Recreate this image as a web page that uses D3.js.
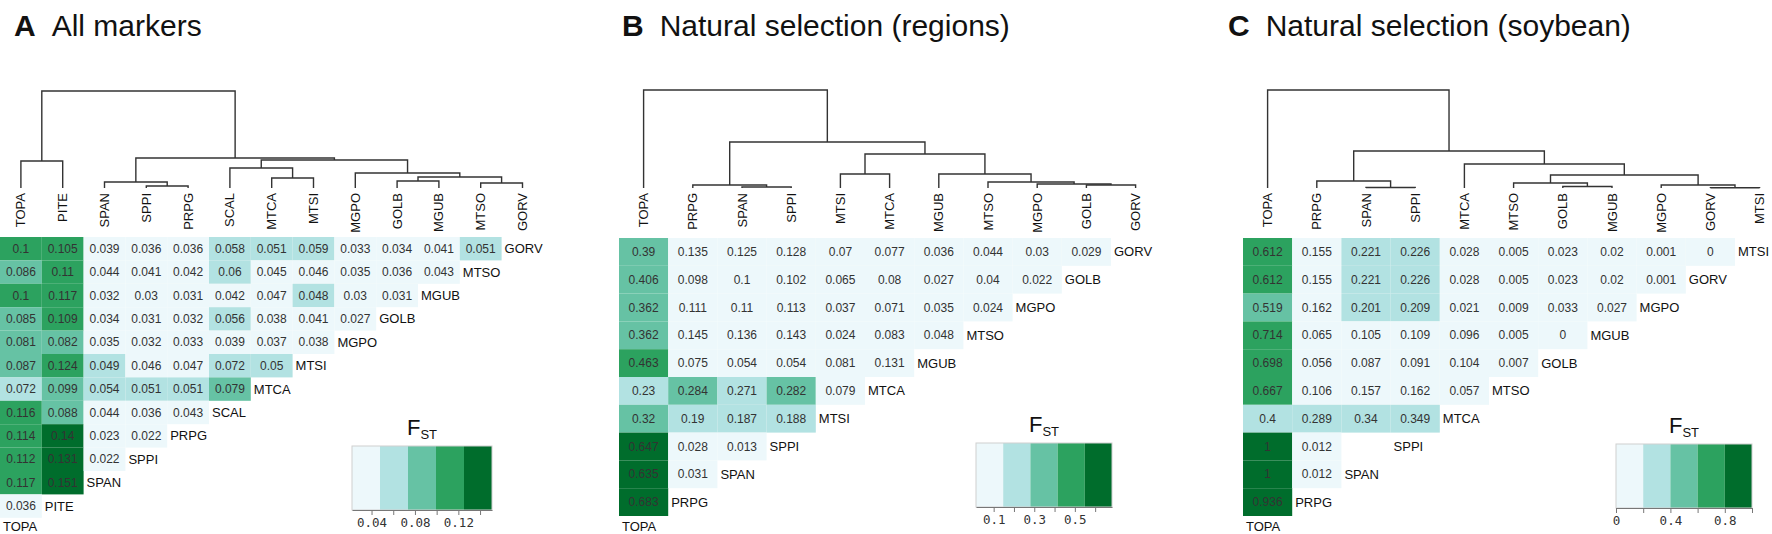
<!DOCTYPE html>
<html>
<head>
<meta charset="utf-8">
<script src="https://cdn.jsdelivr.net/npm/d3@7"></script>
<style>
  body { margin: 0; background: #fff; }
  svg { display: block; font-family: "Liberation Sans", Arial, sans-serif; }
</style>
</head>
<body>
<svg id="chart" width="1772" height="534"></svg>
<script>
const fstColors = ["#edf8fb", "#b2e2e2", "#66c2a4", "#2ca25f", "#006d2c"];

// panel A - all markers
const popsA = ["TOPA", "PITE", "SPAN", "SPPI", "PRPG", "SCAL", "MTCA", "MTSI", "MGPO", "GOLB", "MGUB", "MTSO", "GORV"];
const fstA = [
  [0.1, 0.105, 0.039, 0.036, 0.036, 0.058, 0.051, 0.059, 0.033, 0.034, 0.041, 0.051],
  [0.086, 0.11, 0.044, 0.041, 0.042, 0.06, 0.045, 0.046, 0.035, 0.036, 0.043],
  [0.1, 0.117, 0.032, 0.03, 0.031, 0.042, 0.047, 0.048, 0.03, 0.031],
  [0.085, 0.109, 0.034, 0.031, 0.032, 0.056, 0.038, 0.041, 0.027],
  [0.081, 0.082, 0.035, 0.032, 0.033, 0.039, 0.037, 0.038],
  [0.087, 0.124, 0.049, 0.046, 0.047, 0.072, 0.05],
  [0.072, 0.099, 0.054, 0.051, 0.051, 0.079],
  [0.116, 0.088, 0.044, 0.036, 0.043],
  [0.114, 0.14, 0.023, 0.022],
  [0.112, 0.131, 0.022],
  [0.117, 0.151],
  [0.036]
];
// [left, right, height]
const treeA = [["TOPA", "PITE", 27],
  [["SPAN", ["SPPI", "PRPG", 2], 6],
   [["SCAL", ["MTCA", "MTSI", 10], 20],
    ["MGPO", [["GOLB", "MGUB", 7], ["MTSO", "GORV", 5], 11], 15], 28], 30], 97];
const ticksA = [0.04, 0.06, 0.08, 0.10, 0.12, 0.14];

// panel B - natural selection (regions)
const popsB = ["TOPA", "PRPG", "SPAN", "SPPI", "MTSI", "MTCA", "MGUB", "MTSO", "MGPO", "GOLB", "GORV"];
const fstB = [
  [0.39, 0.135, 0.125, 0.128, 0.07, 0.077, 0.036, 0.044, 0.03, 0.029],
  [0.406, 0.098, 0.1, 0.102, 0.065, 0.08, 0.027, 0.04, 0.022],
  [0.362, 0.111, 0.11, 0.113, 0.037, 0.071, 0.035, 0.024],
  [0.362, 0.145, 0.136, 0.143, 0.024, 0.083, 0.048],
  [0.463, 0.075, 0.054, 0.054, 0.081, 0.131],
  [0.23, 0.284, 0.271, 0.282, 0.079],
  [0.32, 0.19, 0.187, 0.188],
  [0.647, 0.028, 0.013],
  [0.635, 0.031],
  [0.683]
];
const treeB = ["TOPA",
  [["PRPG", ["SPAN", "SPPI", 1], 3],
   [["MTSI", "MTCA", 14],
    ["MGUB", ["MTSO", ["MGPO", ["GOLB", "GORV", 3], 4], 6], 14], 34], 46], 98];
const ticksB = [0.1, 0.2, 0.3, 0.4, 0.5, 0.6];

// panel C - natural selection (soybean)
const popsC = ["TOPA", "PRPG", "SPAN", "SPPI", "MTCA", "MTSO", "GOLB", "MGUB", "MGPO", "GORV", "MTSI"];
const fstC = [
  [0.612, 0.155, 0.221, 0.226, 0.028, 0.005, 0.023, 0.02, 0.001, 0],
  [0.612, 0.155, 0.221, 0.226, 0.028, 0.005, 0.023, 0.02, 0.001],
  [0.519, 0.162, 0.201, 0.209, 0.021, 0.009, 0.033, 0.027],
  [0.714, 0.065, 0.105, 0.109, 0.096, 0.005, 0],
  [0.698, 0.056, 0.087, 0.091, 0.104, 0.007],
  [0.667, 0.106, 0.157, 0.162, 0.057],
  [0.3996, 0.289, 0.34, 0.349],
  [1, 0.012, null],
  [1, 0.012],
  [0.936]
];
const treeC = ["TOPA",
  [["PRPG", ["SPAN", "SPPI", 0.5], 7],
   ["MTCA",
    [["MTSO", ["GOLB", "MGUB", 1.5], 5],
     ["MGPO", ["GORV", "MTSI", 0.3], 3], 13], 24], 37], 98];
const ticksC = [0, 0.2, 0.4, 0.6, 0.8, 1.0];

const panels = [
  { letter: "A", title: "All markers", pops: popsA, fst: fstA, tree: treeA, ticks: ticksA,
    x0: 0, cw: 41.8, top: 237, ch: 23.4, legX: 352, legY: 446, legW: 140, titleX: 14 },
  { letter: "B", title: "Natural selection (regions)", pops: popsB, fst: fstB, tree: treeB, ticks: ticksB,
    x0: 619, cw: 49.2, top: 238, ch: 27.8, legX: 976, legY: 443, legW: 136, titleX: 622 },
  { letter: "C", title: "Natural selection (soybean)", pops: popsC, fst: fstC, tree: treeC, ticks: ticksC,
    x0: 1243, cw: 49.2, top: 238, ch: 27.8, legX: 1616, legY: 444, legW: 136, titleX: 1228 }
];

const svg = d3.select("#chart");
const fmt = (v) => String(+v.toFixed(3));

// dendrogram height -> y
const hy = d3.scaleLinear().domain([0, 100]).range([188, 88]);

const toNode = (t) =>
  typeof t === "string" ? { name: t } : { h: t[2], children: [toNode(t[0]), toNode(t[1])] };

const drawPanel = (p) => {
  const g = svg.append("g");
  const n = p.pops.length;
  const rowNames = p.pops.slice(1).reverse();

  const x = d3.scaleBand().domain(p.pops).range([p.x0, p.x0 + n * p.cw]);
  const y = d3.scaleBand().domain(rowNames).range([p.top, p.top + (n - 1) * p.ch]);

  const all = p.fst.flat().filter((v) => v !== null);
  const extent = d3.extent(all);
  const color = d3.scaleQuantize().domain(extent).range(fstColors);

  // title
  const t = g.append("text")
    .attr("x", p.titleX)
    .attr("y", 36)
    .attr("font-size", 30)
    .attr("fill", "#111");
  t.append("tspan").attr("font-weight", "bold").text(p.letter);
  t.append("tspan").attr("dx", 16).text(p.title);

  // cells
  const cells = [];
  p.fst.forEach((row, i) => {
    row.forEach((v, j) => {
      cells.push({ row: rowNames[i], col: p.pops[j], v: v });
    });
  });

  g.append("g")
    .selectAll("rect")
    .data(cells.filter((d) => d.v !== null))
    .join("rect")
    .attr("x", (d) => x(d.col))
    .attr("y", (d) => y(d.row))
    .attr("width", x.bandwidth())
    .attr("height", y.bandwidth())
    .attr("fill", (d) => color(d.v));

  g.append("g")
    .selectAll("text")
    .data(cells.filter((d) => d.v !== null))
    .join("text")
    .attr("x", (d) => x(d.col) + x.bandwidth() / 2)
    .attr("y", (d) => y(d.row) + y.bandwidth() / 2)
    .attr("text-anchor", "middle")
    .attr("dominant-baseline", "central")
    .attr("font-size", 12)
    .attr("fill", "#333")
    .text((d) => fmt(d.v));

  // row labels at the diagonal
  g.append("g")
    .selectAll("text")
    .data(rowNames)
    .join("text")
    .attr("x", (d, i) => x(p.pops[n - 1 - i]) + 3)
    .attr("y", (d) => y(d) + y.bandwidth() / 2)
    .attr("dominant-baseline", "central")
    .attr("font-size", 13)
    .attr("fill", "#111")
    .text((d) => d);

  g.append("text")
    .attr("x", x(p.pops[0]) + 3)
    .attr("y", p.top + (n - 1) * p.ch + y.bandwidth() / 2 - 3)
    .attr("dominant-baseline", "central")
    .attr("font-size", 13)
    .attr("fill", "#111")
    .text(p.pops[0]);

  // dendrogram
  const root = d3.hierarchy(toNode(p.tree));
  root.eachAfter((d) => {
    if (!d.children) {
      d.px = x(d.data.name) + x.bandwidth() / 2;
      d.py = hy(0);
    } else {
      d.px = d3.mean(d.children, (c) => c.px);
      d.py = hy(d.data.h);
    }
  });

  g.append("g")
    .selectAll("path")
    .data(root.descendants().filter((d) => d.children))
    .join("path")
    .attr("d", (d) => {
      const [a, b] = d.children;
      return `M${a.px},${a.py}V${d.py}H${b.px}V${b.py}`;
    })
    .attr("fill", "none")
    .attr("stroke", "#333")
    .attr("stroke-width", 1.4);

  g.append("g")
    .selectAll("text")
    .data(root.leaves())
    .join("text")
    .attr("transform", (d) => `translate(${d.px},${hy(0) + 5}) rotate(-90)`)
    .attr("text-anchor", "end")
    .attr("dominant-baseline", "central")
    .attr("font-size", 13)
    .attr("fill", "#111")
    .text((d) => d.data.name);

  // legend
  const lw = p.legW, lh = 64;
  const lx = d3.scaleLinear().domain(extent).range([0, lw]);
  const leg = g.append("g").attr("transform", `translate(${p.legX},${p.legY})`);

  const bins = color.range().map((c) => color.invertExtent(c));
  leg.selectAll("rect")
    .data(bins)
    .join("rect")
    .attr("x", (d) => lx(d[0]))
    .attr("y", 0)
    .attr("width", (d) => lx(d[1]) - lx(d[0]))
    .attr("height", lh)
    .attr("fill", (d, i) => fstColors[i]);

  leg.append("rect")
    .attr("width", lw)
    .attr("height", lh)
    .attr("fill", "none")
    .attr("stroke", "#d0d0d0");

  const axis = leg.append("g")
    .attr("transform", `translate(0,${lh})`)
    .call(d3.axisBottom(lx)
      .tickValues(p.ticks)
      .tickSize(5)
      .tickSizeOuter(0)
      .tickFormat((d, i) => (i % 2 === 0 ? fmt(d) : "")));
  axis.selectAll("path, line").attr("stroke", "#777");
  axis.selectAll("text")
    .attr("font-family", "DejaVu Sans Mono, monospace")
    .attr("font-size", 12.5)
    .attr("fill", "#333");

  const lt = leg.append("text")
    .attr("x", lw / 2)
    .attr("y", -11)
    .attr("text-anchor", "middle")
    .attr("fill", "#111");
  lt.append("tspan").attr("font-size", 22).text("F");
  lt.append("tspan").attr("font-size", 13).attr("dy", 4).text("ST");
};

panels.forEach(drawPanel);
</script>
</body>
</html>
